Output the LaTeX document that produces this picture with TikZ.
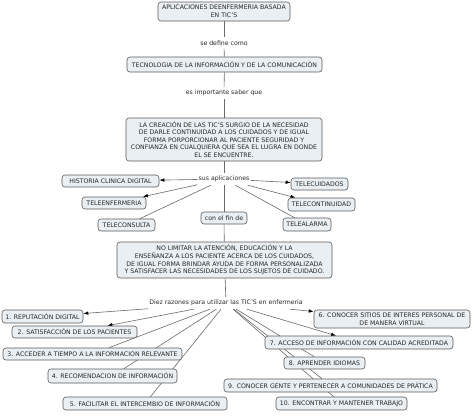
\documentclass[tikz,border=0pt]{standalone}
\usepackage{fontspec}
\setmainfont{DejaVu Sans}
\usetikzlibrary{arrows.meta,backgrounds}
\definecolor{boxfill}{RGB}{233,239,243}
\definecolor{boxline}{RGB}{90,90,90}
\definecolor{conn}{RGB}{105,105,105}
\definecolor{txt}{RGB}{40,40,40}
\begin{document}
\begin{tikzpicture}[x=1pt,y=-1pt,
  concept/.style={draw=boxline, fill=boxfill, rounded corners=3pt, line width=0.6pt, inner sep=1pt, minimum height=13pt, font=\fontsize{6.2}{7.6}\selectfont, text=txt, align=center},
  linkp/.style={fill=white, inner sep=1pt, minimum height=12pt, font=\fontsize{6.2}{7.6}\selectfont, text=txt},
  conline/.style={draw=conn, line width=0.6pt},
  arr/.style={conline, -{Latex[length=5pt,width=3.6pt,color=black]}}]
\useasboundingbox (0,0) rectangle (474,418);

% concepts
\node[concept, minimum width=132pt, minimum height=19pt] (top) at (224,11.5) {APLICACIONES DEENFERMERIA BASADA\\EN TIC'S};
\node[concept, minimum width=195pt, minimum height=15pt] (tec) at (224.5,64.5) {TECNOLOGIA DE LA INFORMACIÓN Y DE LA COMUNICACIÓN};
\node[concept, minimum width=196pt, minimum height=43pt] (big) at (224,139.5) {LA CREACIÓN DE LAS TIC'S SURGIO DE LA NECESIDAD\\DE DARLE CONTINUIDAD A LOS CUIDADOS Y DE IGUAL\\FORMA PORPORCIONAR AL PACIENTE SEGURIDAD Y\\CONFIANZA EN CUALQUIERA QUE SEA EL LUGRA EN DONDE\\EL SE ENCUENTRE.};
\node[concept, minimum width=97pt, minimum height=12pt] (hist) at (110.5,181) {HISTORIA CLINICA DIGITAL};
\node[concept, minimum width=64pt, minimum height=12pt] (tenf) at (114,203) {TELEENFERMERIA};
\node[concept, minimum width=57pt, minimum height=12pt] (tcon) at (126.5,225) {TELECONSULTA};
\node[concept, minimum width=46pt, minimum height=12pt] (fin) at (224,218) {con el fin de};
\node[concept, minimum width=57pt, minimum height=12pt] (tcui) at (319.5,184) {TELECUIDADOS};
\node[concept, minimum width=67pt, minimum height=13pt] (tcnt) at (321.5,204.5) {TELECONTINUIDAD};
\node[concept, minimum width=48pt, minimum height=13pt] (tala) at (307,224.5) {TELEALARMA};
\node[concept, minimum width=215pt, minimum height=36pt] (box2) at (224.5,260) {NO LIMITAR LA ATENCIÓN, EDUCACIÓN Y LA\\ENSEÑANZA A LOS PACIENTE ACERCA DE LOS CUIDADOS,\\DE IGUAL FORMA BRINDAR AYUDA DE FORMA PERSONALIZADA\\Y SATISFACER LAS NECESIDADES DE LOS SUJETOS DE CUIDADO.};
\node[concept, minimum width=81pt] (r1) at (42.5,316.5) {1. REPUTACIÓN DIGITAL};
\node[concept, minimum width=125pt, minimum height=12pt] (r2) at (74.5,332) {2. SATISFACCIÓN DE LOS PACIENTES};
\node[concept, minimum width=179pt, minimum height=12pt] (r3) at (92.5,354) {3. ACCEDER A TIEMPO A LA INFORMACION RELEVANTE};
\node[concept, minimum width=129pt, minimum height=14pt] (r4) at (112.5,376) {4. RECOMENDACION DE INFORMACIÓN};
\node[concept, minimum width=164pt] (r5) at (145,403.5) {5. FACILITAR EL INTERCEMBIO DE INFORMACIÓN};
\node[concept, minimum width=156pt, minimum height=18pt] (r6) at (392,319) {6. CONOCER SITIOS DE INTERES PERSONAL DE\\DE MANERA VIRTUAL};
\node[concept, minimum width=188pt] (r7) at (359,342.5) {7. ACCESO DE INFORMACIÓN CON CALIDAD ACREDITADA};
\node[concept, minimum width=81pt, minimum height=12pt] (r8) at (324.5,363) {8. APRENDER IDIOMAS};
\node[concept, minimum width=213pt] (r9) at (330.5,385.5) {9. CONOCER GENTE Y PERTENECER A COMUNIDADES DE PRÁTICA};
\node[concept, minimum width=131pt] (r10) at (341.5,403.5) {10. ENCONTRAR Y MANTENER TRABAJO};

% linking phrases
\node[linkp] (l1) at (224,43) {se define como};
\node[linkp] (l2) at (224,93) {es importante saber que};
\node[linkp] (l3) at (224,179) {sus aplicaciones};
\node[linkp] (l4) at (226,303) {Diez razones para utilizar las TIC'S en enfermeria};

% connectors (behind the boxes)
\begin{pgfonlayer}{background}
\draw[conline] (top) -- (l1);
\draw[conline] (l1) -- (tec);
\draw[conline] (tec) -- (l2);
\draw[conline] (l2) -- (big);
\draw[conline] (big) -- (l3);
\draw[conline] (l3) -- (fin);
\draw[conline] (fin) -- (box2);
\draw[conline] (box2) -- (l4);

\draw[arr] (l3) -- (hist);
\draw[arr] (l3) -- (tenf);
\draw[conline] (l3) -- (tcon);
\draw[arr] (l3) -- (tcui);
\draw[arr] (l3) -- (tcnt);
\draw[conline] (l3) -- (tala);

\draw[arr] (l4) -- (r1);
\draw[arr] (l4) -- (r2);
\draw[conline] (l4) -- (r3);
\draw[conline] (l4) -- (r4);
\draw[conline] (l4) -- (r5);
\draw[arr] (l4) -- (r6);
\draw[arr] (l4) -- (r7);
\draw[conline] (l4) -- (r8);
\draw[conline] (l4) -- (r9);
\draw[conline] (l4) -- (r10);
\end{pgfonlayer}
\end{tikzpicture}
\end{document}
